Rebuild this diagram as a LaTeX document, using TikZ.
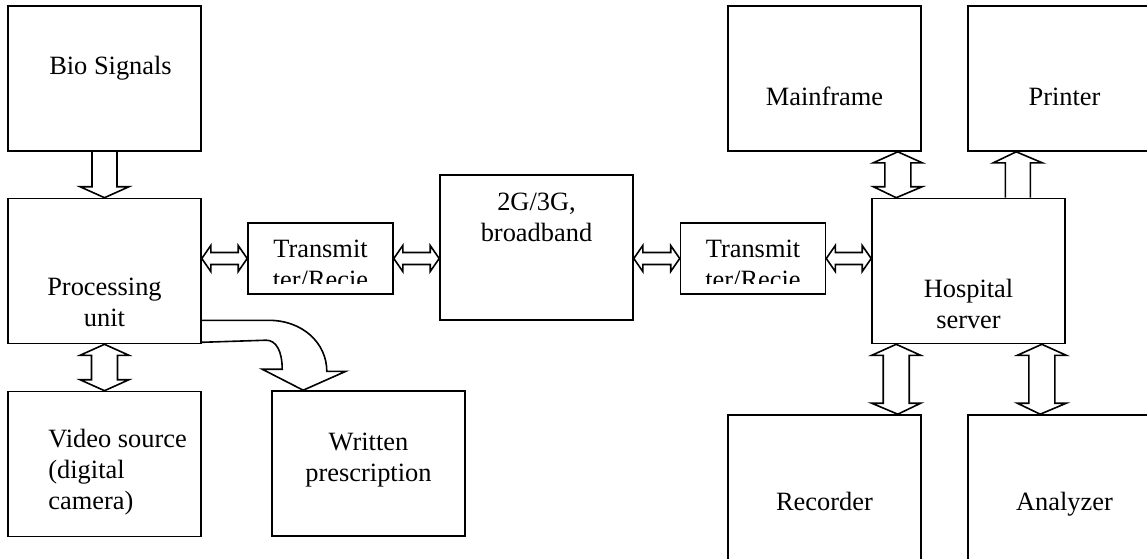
\documentclass[tikz,border=0pt]{standalone}
\usepackage{fontspec}
\setmainfont{Liberation Serif}
\usepackage{tikz}
\usetikzlibrary{calc}

% block arrows: start point, end point
\newcommand{\twoway}[2]{\draw[blk] let \p1=(#1), \p2=(#2) in (\x1,\y1) -- (\x1+12.25pt,\y1-5.5pt) -- (\x1+6.5pt,\y1-5.5pt) -- (\x1+6.5pt,\y2+5.5pt) -- (\x1+12.25pt,\y2+5.5pt) -- (\x2,\y2) -- (\x1-12.25pt,\y2+5.5pt) -- (\x1-6.5pt,\y2+5.5pt) -- (\x1-6.5pt,\y1-5.5pt) -- (\x1-12.25pt,\y1-5.5pt) -- cycle;}
\newcommand{\oneway}[3]{\draw[blk] let \p1=(#1), \p2=(#2) in (\x1-6.25pt,\y1) -- (\x1-6.25pt,{\y2+#3}) -- (\x1-12.25pt,{\y2+#3}) -- (\x2,\y2) -- (\x1+12.25pt,{\y2+#3}) -- (\x1+6.25pt,{\y2+#3}) -- (\x1+6.25pt,\y1);}
\newcommand{\sideway}[2]{\draw[blk] let \p1=(#1), \p2=(#2) in (\x1,\y1) -- (\x1+4.5pt,\y1+6.5pt) -- (\x1+4.5pt,\y1+3pt) -- (\x2-4.5pt,\y1+3pt) -- (\x2-4.5pt,\y1+6.5pt) -- (\x2,\y2) -- (\x2-4.5pt,\y1-6.5pt) -- (\x2-4.5pt,\y1-3pt) -- (\x1+4.5pt,\y1-3pt) -- (\x1+4.5pt,\y1-6.5pt) -- cycle;}

\begin{document}
\begin{tikzpicture}[x=0.5pt,y=-0.5pt,
  font=\fontsize{13.2}{15.5}\selectfont,
  box/.style={draw,line width=0.8pt,minimum width=96.5pt,minimum height=72.5pt,inner sep=0pt},
  smallbox/.style={box,minimum width=72.5pt,minimum height=35.5pt},
  lbl/.style={inner sep=0pt,align=center,anchor=base},
  blk/.style={line width=0.8pt}]
\useasboundingbox (0,0) rectangle (1147,558);
\clip (0,0) rectangle (1147,558);

\node[box] (bio) at (104.5,78.5) {};
\node[box] (proc) at (104.5,271) {};
\node[box] (video) at (104.5,464) {};
\node[box] (wp) at (368.5,463.5) {};
\node[smallbox] (txl) at (320.5,258.5) {};
\node[box] (net) at (536.5,247.5) {};
\node[smallbox] (txr) at (753,258.5) {};
\node[box] (hosp) at (968.5,271) {};
\node[box] (mf) at (824.5,78.5) {};
\node[box] (prn) at (1064.5,78.5) {};
\node[box] (rec) at (824.5,487.5) {};
\node[box] (ana) at (1064.5,487.5) {};

% base of a label = baseline of its last line
\node[lbl] (biot) at (110.5,74) {Bio Signals};
\node[lbl] (proct) at (104.5,326) {Processing\\unit};
\node[lbl,align=left,anchor=base west] (videot) at (48,509) {Video source\\(digital\\camera)};
\node[lbl] (wpt) at (368.5,481) {Written\\prescription};
\node[lbl] (nett) at (536.5,241) {2G/3G,\\broadband};
\node[lbl] (hospt) at (968.5,328) {Hospital\\server};
\node[lbl] (mft) at (824.5,105) {Mainframe};
\node[lbl] (prnt) at (1064.5,105) {Printer};
\node[lbl] (rect) at (824.5,510) {Recorder};
\node[lbl] (anat) at (1064.5,510) {Analyzer};

% text of the small boxes is cut off
\begin{scope}
\clip (txl.north west) rectangle ($(txl.south east)+(0,-11)$);
\node[lbl] (txlt) at (320.5,288) {Transmit\\ter/Recie};
\end{scope}
\begin{scope}
\clip (txr.north west) rectangle ($(txr.south east)+(0,-11)$);
\node[lbl] (txrt) at (753,288) {Transmit\\ter/Recie};
\end{scope}

\oneway{bio.south}{proc.north}{5.5pt}
\twoway{proc.south}{video.north}

\sideway{proc.east |- txl.west}{txl.west}
\sideway{txl.east}{net.west |- txl.east}
\sideway{net.east |- txr.west}{txr.west}
\sideway{txr.east}{hosp.west |- txr.east}

\twoway{$(mf.south east)+(-24,0)$}{$(hosp.north west)+(25,0)$}
\oneway{$(hosp.north east)+(-48,0)$}{$(prn.south west)+(49,0)$}{-5.5pt}
\twoway{$(hosp.south west)+(25,0)$}{$(rec.north east)+(-24,0)$}
\twoway{$(hosp.south east)+(-24,0)$}{$(ana.north west)+(73,0)$}

% bent arrow to the prescription
\coordinate (bend) at ($(proc.south east)+(0,-24)$);
\coordinate (bendtip) at ($(wp.north west)+(32,0)$);
\draw[blk] (bend) -- ++(67,0) .. controls +(34,0) and +(0,-28) .. ++(58,51) -- ++(19,0) -- (bendtip) -- ++(-41,-21) -- ++(20,0) .. controls +(0,-18) and +(10,0) .. ++(-16,-29) -- ($(proc.south east)+(0,-2)$);

\end{tikzpicture}
\end{document}
